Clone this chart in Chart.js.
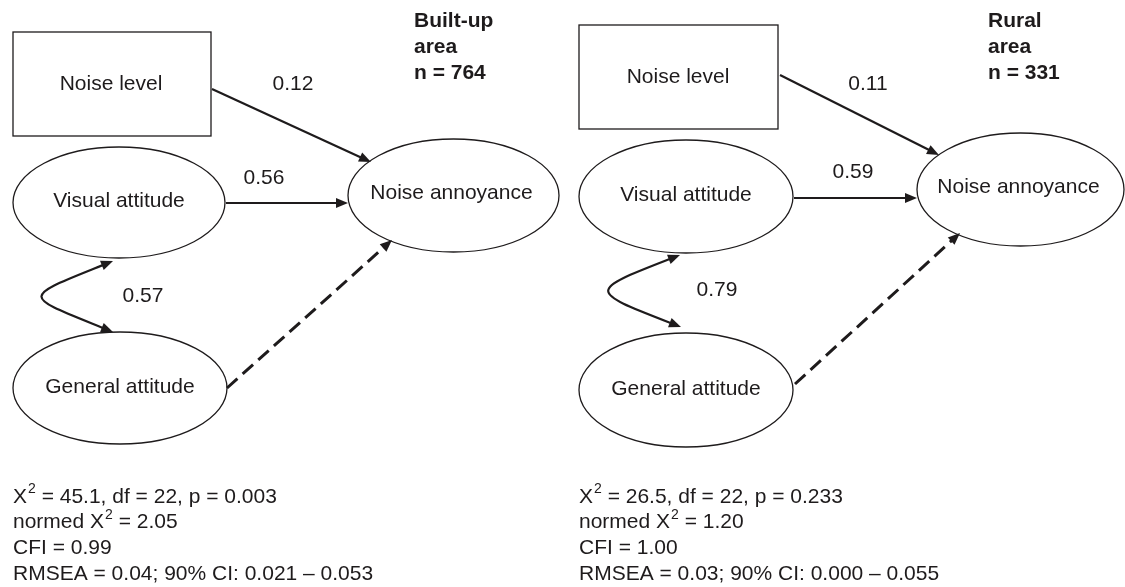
<!DOCTYPE html>
<html>
<head>
<meta charset="utf-8">
<script src="https://cdn.jsdelivr.net/npm/chart.js@4/dist/chart.umd.min.js"></script>
<style>
  html, body { margin: 0; padding: 0; background: #ffffff; }
  #wrap { width: 1125px; height: 587px; }
</style>
</head>
<body>
<div id="wrap"><canvas id="c" width="1125" height="587"></canvas></div>
<script>
// ---------- DATA ----------
const panelTitles = [['Built-up', 'area', 'n = 764'], ['Rural', 'area', 'n = 331']];
const nodeLabels = ['Noise level', 'Visual attitude', 'General attitude', 'Noise annoyance'];
const coefNoiseLevel = ['0.12', '0.11'];
const coefVisual = ['0.56', '0.59'];
const covVisualGeneral = ['0.57', '0.79'];
const chiSquare = ['45.1', '26.5'];
const degreesFreedom = ['22', '22'];
const pValues = ['0.003', '0.233'];
const normedChi = ['2.05', '1.20'];
const cfiValues = ['0.99', '1.00'];
const rmseaValues = ['0.04', '0.03'];
const ciLower = ['0.021', '0.000'];
const ciUpper = ['0.053', '0.055'];

// ---------- LAYOUT (diagram geometry, in scale units) ----------
const layout = [
  {
    rect: [13, 32, 211, 136], rectLabel: [111, 84],
    visual: [119, 202.5, 106, 55.5],
    general: [120, 388, 107, 56],
    annoy: [453.5, 195.5, 105.5, 56.5],
    pNoise: [[212, 89], [371, 162]],
    pVisual: [[226, 203], [348, 203]],
    pGeneral: [[227, 388], [392, 240]],
    curve: [[113, 261], [21, 298], [21, 295], [113, 332]],
    lblNoise: [293, 84], lblVisual: [264, 178], lblCov: [143, 296],
    title: [414, 21],
    stats: [13, 497]
  },
  {
    rect: [579, 25, 778, 129], rectLabel: [678, 77],
    visual: [686, 196.5, 107, 56.5],
    general: [686, 390, 107, 57],
    annoy: [1020.5, 189.5, 103.5, 56.5],
    pNoise: [[780, 75], [939, 155]],
    pVisual: [[794, 198], [917, 198]],
    pGeneral: [[795, 384], [960, 233]],
    curve: [[680, 255], [587, 291], [588, 291], [681, 327]],
    lblNoise: [868, 84], lblVisual: [853, 172], lblCov: [717, 290],
    title: [988, 21],
    stats: [579, 497]
  }
];

const INK = '#1e1b1c';
const FONT = '21px "Liberation Sans", Arial, Helvetica, sans-serif';
const BOLD = 'bold 21px "Liberation Sans", Arial, Helvetica, sans-serif';
const SUP = '14px "Liberation Sans", Arial, Helvetica, sans-serif';
const HEAD_LEN = 12, HEAD_HALF = 5;

function shorten(a, b, d) {
  const dx = b[0] - a[0], dy = b[1] - a[1], L = Math.hypot(dx, dy);
  return [b[0] - dx / L * d, b[1] - dy / L * d];
}

// straight paths as line datasets (library draws them)
const datasets = [];
layout.forEach((L) => {
  [['pNoise', []], ['pVisual', []], ['pGeneral', [14, 7]]].forEach(([k, dash]) => {
    const a = L[k][0], b = shorten(L[k][0], L[k][1], HEAD_LEN - 1);
    datasets.push({
      type: 'line',
      data: [{ x: a[0], y: a[1] }, { x: b[0], y: b[1] }],
      borderColor: INK,
      borderWidth: k === 'pGeneral' ? 3 : 2.2,
      borderDash: dash,
      pointRadius: 0,
      fill: false,
      tension: 0
    });
  });
});

const diagramPlugin = {
  id: 'diagram',
  afterDatasetsDraw(chart) {
    const ctx = chart.ctx;
    const xs = chart.scales.x, ys = chart.scales.y;
    const px = (v) => xs.getPixelForValue(v);
    const py = (v) => ys.getPixelForValue(v);
    const P = (p) => [px(p[0]), py(p[1])];

    function head(tip, from) {
      const t = P(tip), f = P(from);
      const dx = t[0] - f[0], dy = t[1] - f[1], L = Math.hypot(dx, dy);
      const ux = dx / L, uy = dy / L;
      const bx = t[0] - ux * HEAD_LEN, by = t[1] - uy * HEAD_LEN;
      ctx.beginPath();
      ctx.moveTo(t[0], t[1]);
      ctx.lineTo(bx - uy * HEAD_HALF, by + ux * HEAD_HALF);
      ctx.lineTo(bx + uy * HEAD_HALF, by - ux * HEAD_HALF);
      ctx.closePath();
      ctx.fillStyle = INK;
      ctx.fill();
    }
    function ellipse(e) {
      const c = P([e[0], e[1]]);
      const rx = px(e[0] + e[2]) - c[0];
      const ry = Math.abs(py(e[1] + e[3]) - c[1]);
      ctx.beginPath();
      ctx.ellipse(c[0], c[1], rx, ry, 0, 0, Math.PI * 2);
      ctx.lineWidth = 1.3;
      ctx.strokeStyle = INK;
      ctx.stroke();
    }
    function text(str, pos, font, align) {
      ctx.font = font;
      ctx.fillStyle = INK;
      ctx.textAlign = align || 'center';
      ctx.textBaseline = 'middle';
      const p = P(pos);
      ctx.fillText(str, p[0], p[1]);
    }
    function chiLine(prefix, rest, pos) {
      const p = P(pos);
      ctx.fillStyle = INK;
      ctx.textBaseline = 'middle';
      ctx.textAlign = 'left';
      let x = p[0];
      ctx.font = FONT;
      ctx.fillText(prefix + 'X', x, p[1]);
      x += ctx.measureText(prefix + 'X').width + 1;
      ctx.font = SUP;
      ctx.fillText('2', x, p[1] - 8);
      x += ctx.measureText('2').width;
      ctx.font = FONT;
      ctx.fillText(rest, x, p[1]);
    }

    ctx.save();
    layout.forEach((L, i) => {
      head(L.pNoise[1], L.pNoise[0]);
      head(L.pVisual[1], L.pVisual[0]);
      head(L.pGeneral[1], L.pGeneral[0]);

      const r0 = P([L.rect[0], L.rect[1]]), r1 = P([L.rect[2], L.rect[3]]);
      ctx.lineWidth = 1.3;
      ctx.strokeStyle = INK;
      ctx.strokeRect(r0[0], r0[1], r1[0] - r0[0], r1[1] - r0[1]);

      ellipse(L.visual);
      ellipse(L.general);
      ellipse(L.annoy);

      const c = L.curve;
      const s0 = shorten(c[1], c[0], HEAD_LEN - 1), s3 = shorten(c[2], c[3], HEAD_LEN - 1);
      const q0 = P(s0), q1 = P(c[1]), q2 = P(c[2]), q3 = P(s3);
      ctx.beginPath();
      ctx.moveTo(q0[0], q0[1]);
      ctx.bezierCurveTo(q1[0], q1[1], q2[0], q2[1], q3[0], q3[1]);
      ctx.lineWidth = 2.2;
      ctx.strokeStyle = INK;
      ctx.stroke();
      head(c[0], c[1]);
      head(c[3], c[2]);

      text(nodeLabels[0], L.rectLabel, FONT);
      text(nodeLabels[1], [L.visual[0], L.visual[1] - 1], FONT);
      text(nodeLabels[2], [L.general[0], L.general[1] - 1], FONT);
      text(nodeLabels[3], [L.annoy[0] - 2, L.annoy[1] - 2], FONT);

      text(coefNoiseLevel[i], L.lblNoise, FONT);
      text(coefVisual[i], L.lblVisual, FONT);
      text(covVisualGeneral[i], L.lblCov, FONT);

      panelTitles[i].forEach((t, k) => text(t, [L.title[0], L.title[1] + k * 26], BOLD, 'left'));

      const sx = L.stats[0], sy = L.stats[1], lh = 25.7;
      chiLine('', ' = ' + chiSquare[i] + ', df = ' + degreesFreedom[i] + ', p = ' + pValues[i], [sx, sy]);
      chiLine('normed ', ' = ' + normedChi[i], [sx, sy + lh]);
      text('CFI = ' + cfiValues[i], [sx, sy + 2 * lh], FONT, 'left');
      text('RMSEA = ' + rmseaValues[i] + '; 90% CI: ' + ciLower[i] + ' \u2013 ' + ciUpper[i], [sx, sy + 3 * lh], FONT, 'left');
    });
    ctx.restore();
  }
};

new Chart(document.getElementById('c'), {
  type: 'scatter',
  data: { datasets },
  options: {
    responsive: false,
    devicePixelRatio: 1,
    animation: false,
    layout: { padding: 0 },
    plugins: { legend: { display: false }, tooltip: { enabled: false } },
    scales: {
      x: { type: 'linear', min: 0, max: 1125, display: false },
      y: { type: 'linear', min: 0, max: 587, reverse: true, display: false }
    },
    elements: { line: { borderCapStyle: 'butt' } }
  },
  plugins: [diagramPlugin]
});
</script>
</body>
</html>
